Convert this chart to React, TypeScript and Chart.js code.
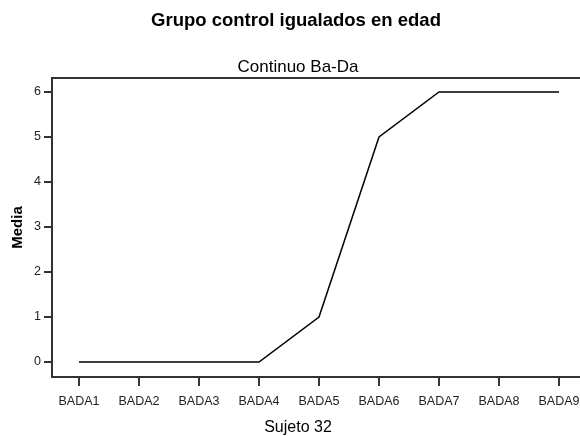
import React, { useEffect, useRef } from "react";
import { Chart, registerables } from "chart.js";

Chart.register(...registerables);

const chartTitle = "Grupo control igualados en edad";
const chartSubtitle = "Continuo Ba-Da";
const xAxisTitle = "Sujeto 32";
const yAxisTitle = "Media";
const categories = ["BADA1", "BADA2", "BADA3", "BADA4", "BADA5", "BADA6", "BADA7", "BADA8", "BADA9"];
const mediaValues = [0, 0, 0, 0, 1, 5, 6, 6, 6];
const yTickValues = [0, 1, 2, 3, 4, 5, 6];

const FONT = "'Liberation Sans', Arial, Helvetica, sans-serif";

const boxAndTextPlugin = {
  id: "boxAndText",
  afterDraw(chart: any) {
    const { ctx, chartArea } = chart;
    ctx.save();
    ctx.strokeStyle = "#333";
    ctx.lineWidth = 2;
    ctx.strokeRect(chartArea.left, chartArea.top, chartArea.right - chartArea.left, chartArea.bottom - chartArea.top);

    ctx.fillStyle = "#000";
    ctx.textAlign = "center";
    ctx.textBaseline = "middle";
    ctx.font = `bold 18.5px ${FONT}`;
    ctx.fillText(chartTitle, 296, 21);
    ctx.font = `17px ${FONT}`;
    ctx.fillText(chartSubtitle, 298, 67);
    ctx.font = `16px ${FONT}`;
    ctx.fillText(xAxisTitle, 298, 428);

    ctx.translate(18, (chartArea.top + chartArea.bottom) / 2);
    ctx.rotate(-Math.PI / 2);
    ctx.font = `bold 15px ${FONT}`;
    ctx.fillText(yAxisTitle, 0, 0);
    ctx.restore();
  },
};

export default function App() {
  const canvasRef = useRef<HTMLCanvasElement | null>(null);

  useEffect(() => {
    const canvas = canvasRef.current;
    if (!canvas) return;
    const chart = new Chart(canvas, {
      type: "line",
      data: {
        datasets: [
          {
            data: mediaValues.map((v, i) => ({ x: i + 1, y: v })),
            borderColor: "#000",
            borderWidth: 1.5,
            pointRadius: 0,
            tension: 0,
            fill: false,
          },
        ],
      },
      options: {
        responsive: false,
        animation: false,
        devicePixelRatio: 1,
        layout: { padding: { top: 78, left: 0, right: 0, bottom: 0 } },
        plugins: {
          legend: { display: false },
          title: { display: false },
          tooltip: { enabled: false },
        },
        scales: {
          x: {
            type: "linear",
            min: 0.55,
            max: 10.35,
            afterFit: (s: any) => {
              s.height = 59;
            },
            afterBuildTicks: (s: any) => {
              s.ticks = categories.map((_, i) => ({ value: i + 1 }));
            },
            ticks: {
              autoSkip: false,
              maxRotation: 0,
              padding: 8,
              color: "#222",
              font: { family: FONT, size: 12.5 },
              callback: (v: any) => categories[Math.round(Number(v)) - 1] ?? "",
            },
            grid: {
              drawOnChartArea: false,
              drawTicks: true,
              tickLength: 9,
              color: "#333",
              lineWidth: 2,
            },
            border: { display: false },
          },
          y: {
            type: "linear",
            min: -0.333,
            max: 6.311,
            afterFit: (s: any) => {
              s.width = 52;
            },
            afterBuildTicks: (s: any) => {
              s.ticks = yTickValues.map((v) => ({ value: v }));
            },
            ticks: {
              padding: 3,
              color: "#222",
              font: { family: FONT, size: 12.5 },
            },
            grid: {
              drawOnChartArea: false,
              drawTicks: true,
              tickLength: 8,
              color: "#333",
              lineWidth: 2,
            },
            border: { display: false },
          },
        },
      },
      plugins: [boxAndTextPlugin],
    });
    return () => chart.destroy();
  }, []);

  return (
    <div style={{ position: "absolute", left: 0, top: 0, width: 580, height: 436, overflow: "hidden", background: "#fff" }}>
      <canvas ref={canvasRef} width={640} height={436} style={{ display: "block" }} />
    </div>
  );
}
